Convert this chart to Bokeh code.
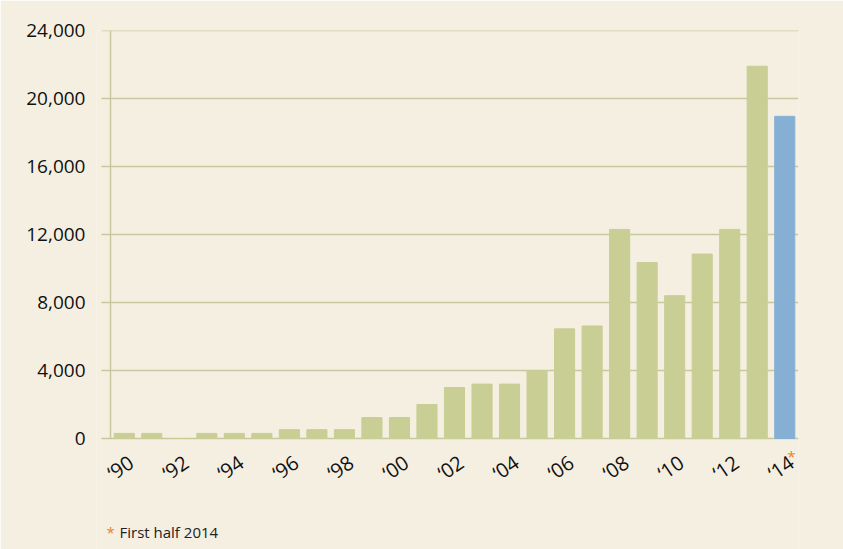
from bokeh.plotting import figure
from bokeh.models import Range1d, ColumnDataSource, Label, NumeralTickFormatter, FixedTicker
from bokeh.core.properties import value
from bokeh.embed import file_html
from bokeh.resources import INLINE

years = list(range(1990, 2015))
values = [300, 300, 0, 300, 300, 300, 520, 520, 520, 1230, 1230, 2000, 3000, 3200, 3200,
          4000, 6450, 6620, 12300, 10350, 8400, 10850, 12300, 21900, 18950]
tick_years = list(range(1990, 2015, 2))
tick_text = ["\u2018" + str(y)[2:] for y in tick_years]
y_ticks = [0, 4000, 8000, 12000, 16000, 20000, 24000]
y_top = 24000

BG = "#f5efe2"
GREEN = "#c9ce94"
BLUE = "#85b0d4"
GRID = "#c5c99d"
ORANGE = "#e8822e"
FONT = "Open Sans"

W, H = 843, 549
TOP, BOTTOM_AXIS = 30, 438        # pixel rows of 24,000 and 0
AXIS_X, RIGHT_X = 110, 798        # pixel columns of the y axis and the plot's right end
FRAME_L = 96
px_per_unit = (BOTTOM_AXIS - TOP) / y_top
y_bottom = -(H - BOTTOM_AXIS) / px_per_unit
label_y = -29 / px_per_unit       # tick labels 29px below the baseline
x_lo, x_hi = years[0] - 0.5, years[-1] + 0.5
px_per_year = (RIGHT_X - AXIS_X) / (x_hi - x_lo)
x_start = x_lo - (AXIS_X - FRAME_L) / px_per_year
grid_x0 = x_lo - 9 / px_per_year  # gridlines reach 9px left of the axis

colors = [GREEN] * (len(years) - 1) + [BLUE]
src = ColumnDataSource(dict(x=years, top=values, color=colors))

p = figure(x_range=Range1d(x_start, x_hi), y_range=Range1d(y_bottom, y_top),
           width=W, height=H, output_backend="svg", toolbar_location=None,
           min_border_left=FRAME_L, min_border_right=W - RIGHT_X, min_border_top=TOP,
           min_border_bottom=0)
p.background_fill_color = BG
p.border_fill_color = BG
p.outline_line_color = None

# gridlines and y axis line
p.segment(x0=[grid_x0] * len(y_ticks), x1=[x_hi] * len(y_ticks), y0=y_ticks, y1=y_ticks,
          line_color=GRID, line_width=1.5)
p.segment(x0=[x_lo], x1=[x_lo], y0=[0], y1=[y_top], line_color=GRID, line_width=1.5)

p.vbar(x="x", top="top", bottom=0, width=0.73, color="color", source=src)

p.xaxis.visible = False
p.xgrid.grid_line_color = None
p.ygrid.grid_line_color = None

ya = p.yaxis[0]
ya.ticker = FixedTicker(ticks=y_ticks)
ya.formatter = NumeralTickFormatter(format="0,0")
ya.axis_line_color = None
ya.major_tick_line_color = None
ya.major_tick_out = 0
ya.major_tick_in = 0
ya.minor_tick_line_color = None
ya.minor_tick_out = 0
ya.minor_tick_in = 0
ya.major_label_standoff = 11
ya.major_label_text_font = FONT
ya.major_label_text_font_size = "19px"
ya.major_label_text_color = "#111111"

lsrc = ColumnDataSource(dict(x=tick_years, y=[label_y] * len(tick_years), text=tick_text))
p.text(x="x", y="y", text="text", source=lsrc, angle=0.6, text_align="center",
       text_baseline="middle", x_offset=-4, text_font=value(FONT), text_font_size="20px",
       text_color="#111111")

p.add_layout(Label(x=791 - FRAME_L, y=94, x_units="screen", y_units="screen", text="*",
                   text_font=FONT, text_font_size="15px", text_color=ORANGE,
                   text_align="center", text_baseline="middle"))

p.add_layout(Label(x=106 - FRAME_L, y=18, x_units="screen", y_units="screen", text="*",
                   text_font=FONT, text_font_size="15px", text_color=ORANGE,
                   text_align="left", text_baseline="middle"))
p.add_layout(Label(x=119 - FRAME_L, y=18, x_units="screen", y_units="screen", text="First half 2014",
                   text_font=FONT, text_font_size="15px", text_color="#222222",
                   text_align="left", text_baseline="middle"))

open("out.html", "w").write(file_html(p, INLINE))
